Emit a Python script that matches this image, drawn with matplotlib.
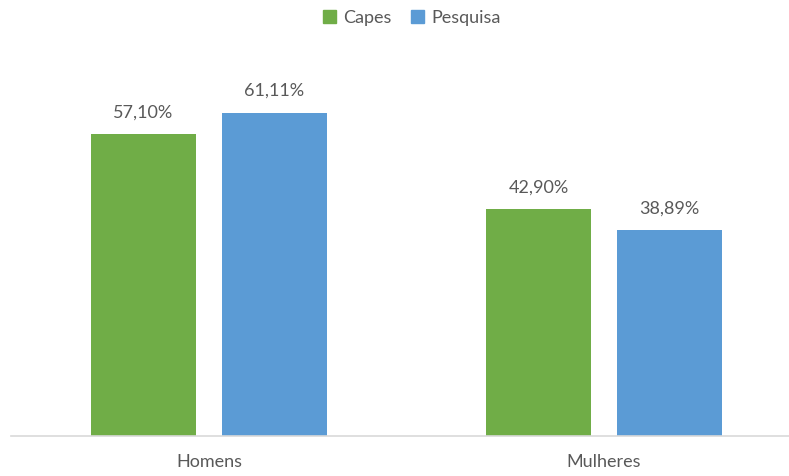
import matplotlib.pyplot as plt
from matplotlib.patches import Patch

categorias = ['Homens', 'Mulheres']
capes = [57.10, 42.90]
pesquisa = [61.11, 38.89]
series = ['Capes', 'Pesquisa']

verde = '#70AD47'
azul = '#5B9BD5'
cinza = '#595959'

plt.rcParams['font.family'] = ['Lato', 'DejaVu Sans']

fig = plt.figure(figsize=(7.89, 4.76), dpi=100)
ax = fig.add_axes([11 / 789, 40 / 476, 778 / 789, 370 / 476])

x = list(range(len(categorias)))
largura = 0.266
desloc = 0.166
b1 = ax.bar([i - desloc for i in x], capes, largura, color=verde)
b2 = ax.bar([i + desloc for i in x], pesquisa, largura, color=azul)

# rotulos com o valor em formato brasileiro
for barras, valores in [(b1, capes), (b2, pesquisa)]:
    for b, v in zip(barras, valores):
        ax.annotate(f'{v:.2f}%'.replace('.', ','),
                    (b.get_x() + b.get_width() / 2, v),
                    xytext=(0, 10), textcoords='offset points',
                    ha='center', va='bottom', fontsize=13, color=cinza)

ax.set_xlim(-0.501, 1.468)
ax.set_ylim(0, 70)
ax.set_xticks(x)
ax.set_xticklabels(categorias, fontsize=13, color=cinza)
ax.tick_params(axis='x', length=0, pad=13)
ax.set_yticks([])
for lado in ['top', 'right', 'left']:
    ax.spines[lado].set_visible(False)
ax.spines['bottom'].set_color('#D9D9D9')
ax.spines['bottom'].set_linewidth(1.2)

handles = [Patch(color=verde), Patch(color=azul)]
fig.legend(handles, series, loc='center', bbox_to_anchor=(412 / 789, 1 - 18 / 476),
           ncol=2, frameon=False, fontsize=13, labelcolor=cinza,
           handlelength=0.7, handleheight=0.7, handletextpad=0.4, columnspacing=1.1)

fig.savefig('out.png', dpi=100)
